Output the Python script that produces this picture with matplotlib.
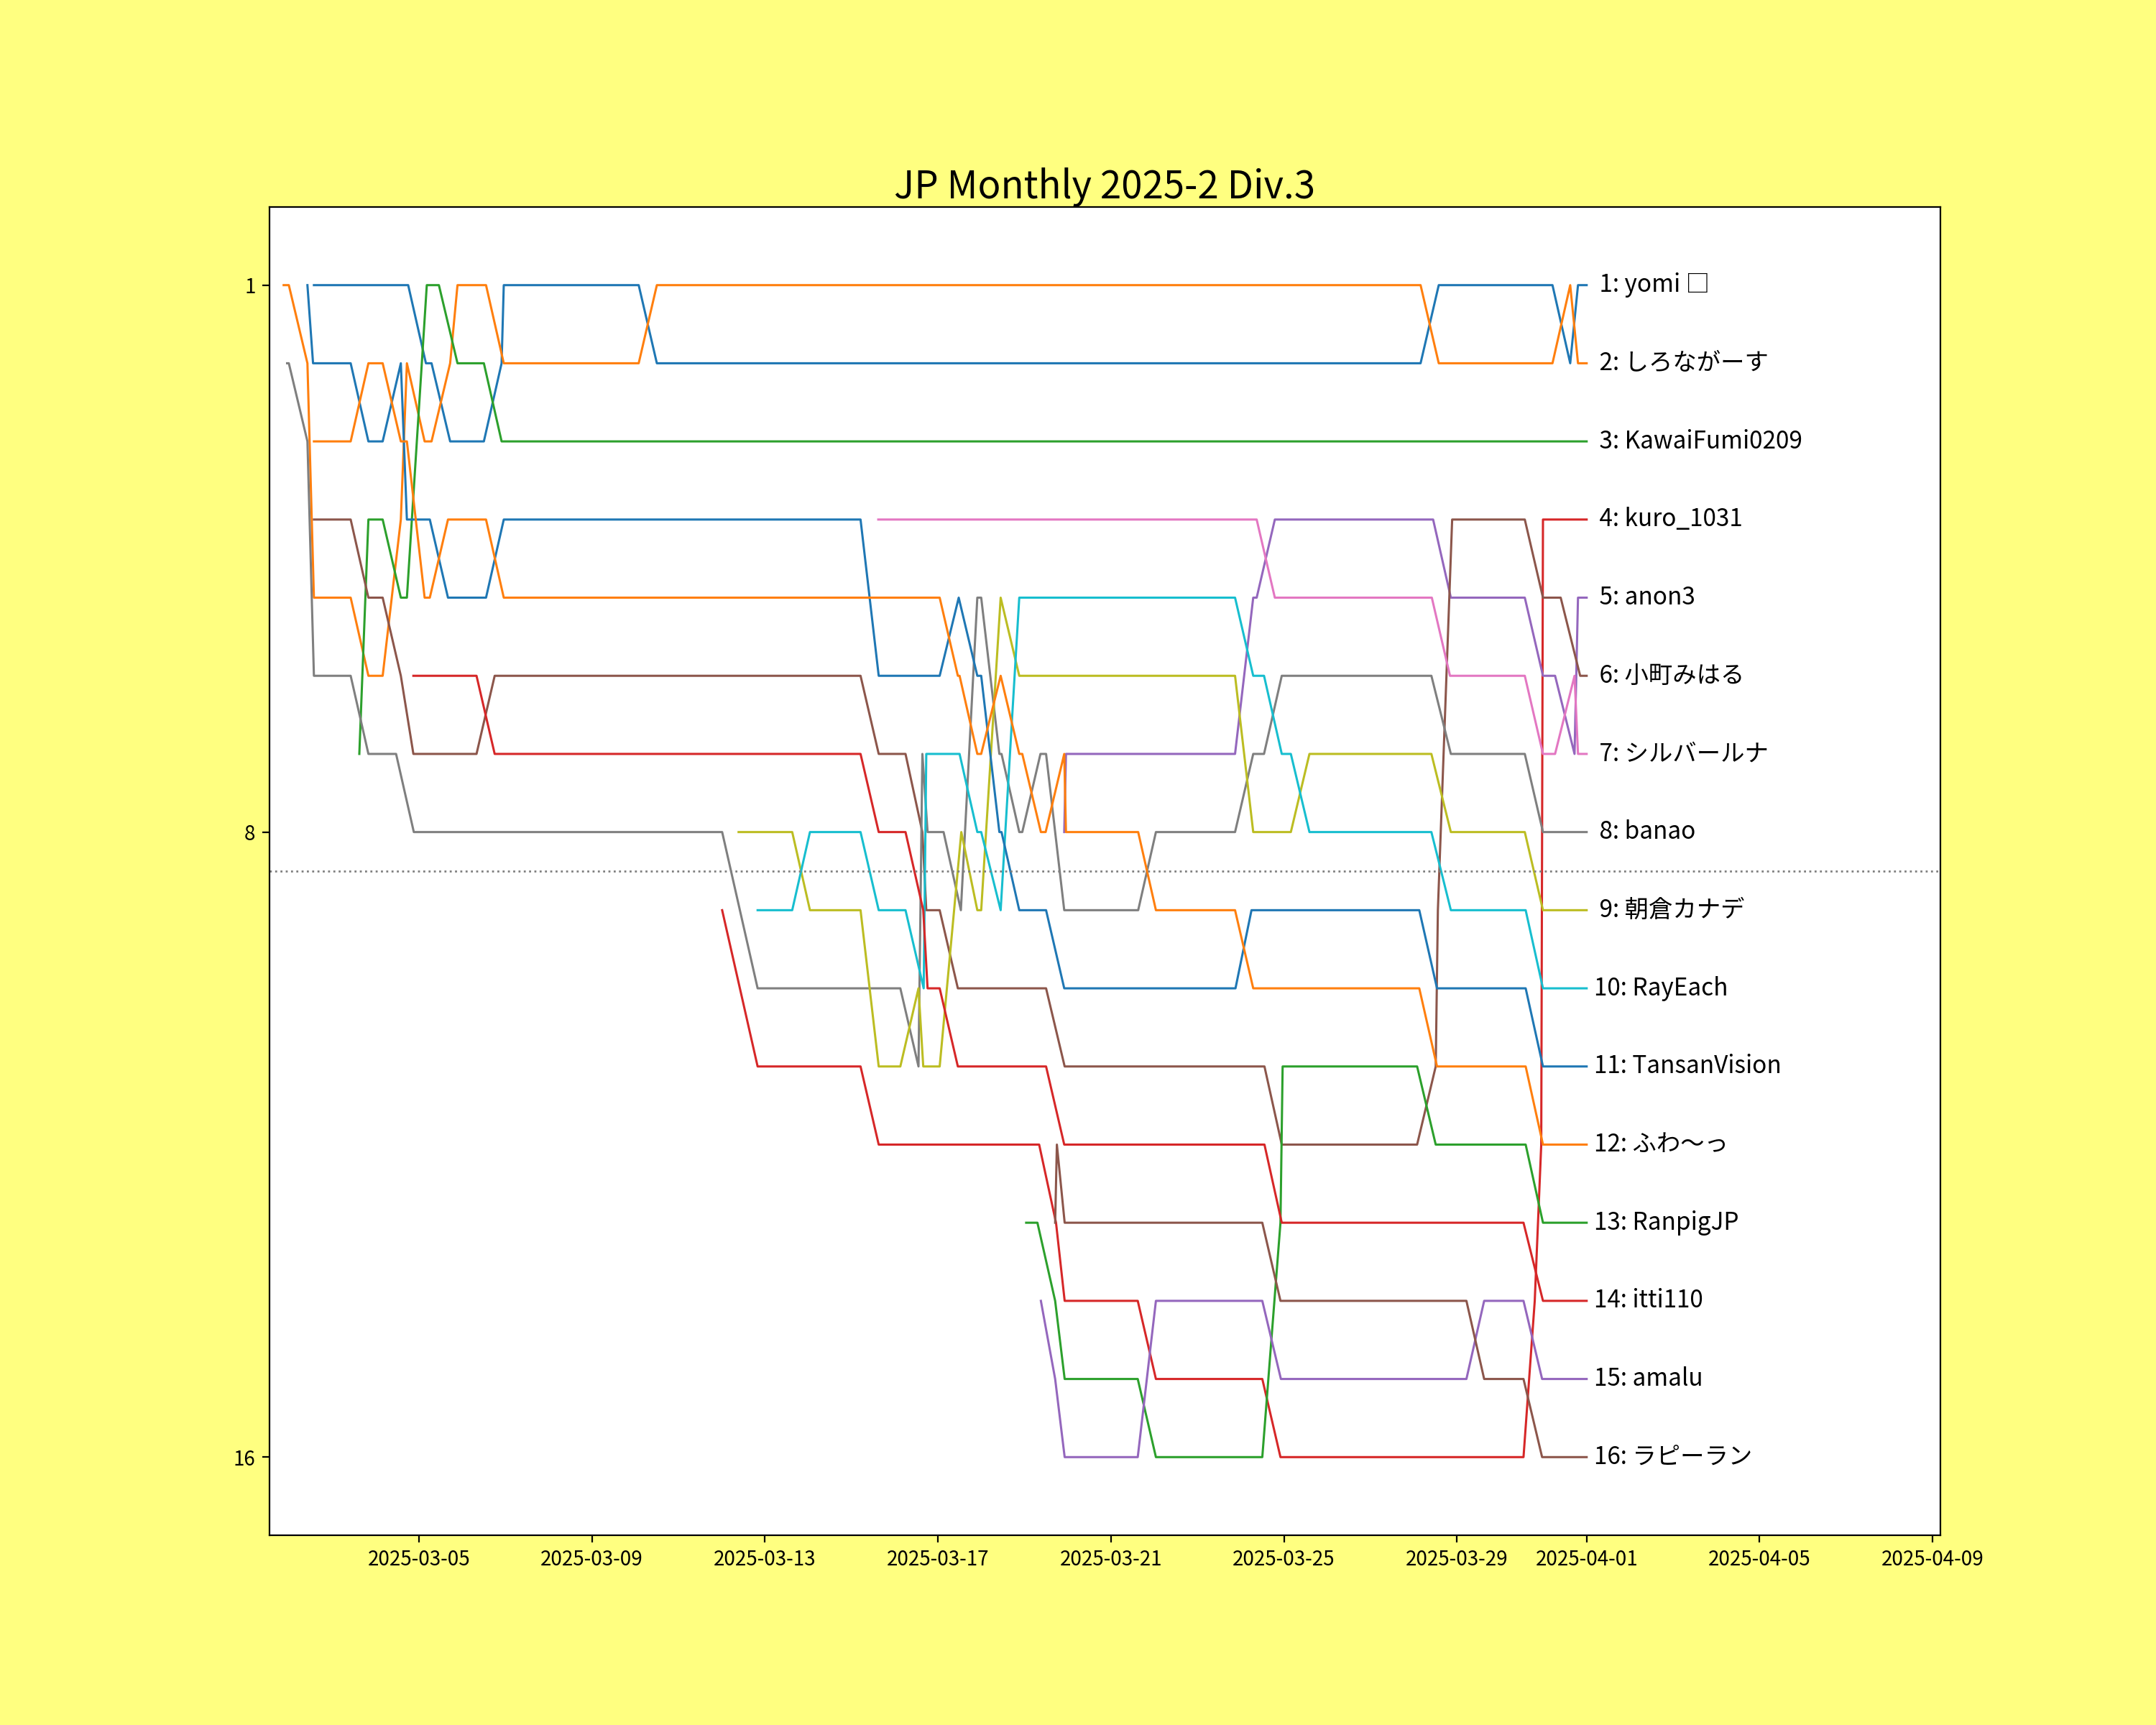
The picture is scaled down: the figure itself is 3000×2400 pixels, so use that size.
import datetime as dt
import matplotlib
matplotlib.use("Agg")
import matplotlib.pyplot as plt
import matplotlib.dates as mdates

plt.rcParams['font.family'] = ['Noto Sans CJK JP', 'DejaVu Sans']

TITLE = "JP Monthly 2025-2 Div.3"

# Times are "day of March" (fractional): 1.0 = 2025-03-01 00:00, 32.0 = 2025-04-01 00:00
names = ["yomi □", "しろながーす", "KawaiFumi0209", "kuro_1031", "anon3", "小町みはる",
         "シルバールナ", "banao", "朝倉カナデ", "RayEach", "TansanVision", "ふわ〜っ",
         "RanpigJP", "itti110", "amalu", "ラピーラン"]

yomi_t = [2.57, 4.75, 5.16, 5.29, 5.72, 6.50, 6.91, 6.96, 10.08, 10.50, 28.16, 28.58, 31.21, 31.62, 31.80, 32.00]
yomi_r = [1, 1, 2, 2, 3, 3, 2, 1, 1, 2, 2, 1, 1, 2, 1, 1]

shiro_t = [1.87, 1.99, 2.42, 2.57, 3.42, 3.83, 4.16, 4.58, 4.72, 5.13, 5.29, 5.72, 5.89, 6.55, 6.96,
           10.08, 10.50, 28.16, 28.58, 31.21, 31.62, 31.80, 32.00]
shiro_r = [1, 1, 2, 5, 5, 6, 6, 4, 2, 3, 3, 2, 1, 1, 2, 2, 1, 1, 2, 2, 1, 2, 2]

kawai_t = [3.62, 3.83, 4.16, 4.58, 4.72, 5.18, 5.46, 5.89, 6.50, 6.91, 32.00]
kawai_r = [7, 4, 4, 5, 5, 1, 1, 2, 2, 3, 3]

kuro_t = [12.01, 12.83, 15.21, 15.63, 19.34, 19.73, 19.93, 21.62, 22.04, 24.50, 24.92, 30.54,
          30.80, 30.95, 30.99, 32.00]
kuro_r = [9, 11, 11, 12, 12, 13, 14, 14, 15, 15, 16, 16, 14, 12, 4, 4]

anon3_t = [19.92, 19.96, 23.87, 24.29, 24.37, 24.79, 28.45, 28.86, 30.57, 30.99, 31.27, 31.72, 31.80, 32.00]
anon3_r = [8, 7, 7, 5, 5, 4, 4, 5, 5, 6, 6, 7, 5, 5]

komachi_t = [2.57, 3.42, 3.83, 4.16, 4.58, 4.87, 6.33, 6.75, 15.21, 15.63, 16.25, 16.64, 16.73, 17.04,
             17.46, 19.50, 19.93, 24.55, 24.95, 28.08, 28.51, 28.56, 28.89, 30.57, 30.99, 31.40, 31.85, 32.00]
komachi_r = [4, 4, 5, 5, 6, 7, 7, 6, 6, 7, 7, 8, 9, 9, 10, 10, 11, 11, 12, 12, 11, 9, 4, 4, 5, 5, 6, 6]

silver_t = [15.62, 24.37, 24.79, 28.42, 28.84, 30.57, 30.99, 31.27, 31.72, 31.80, 32.00]
silver_r = [4, 4, 5, 5, 6, 6, 7, 7, 6, 7, 7]

banao_t = [1.95, 1.99, 2.42, 2.57, 3.42, 3.83, 4.47, 4.88, 12.01, 12.83, 16.13, 16.55, 16.64, 16.76,
           17.13, 17.53, 17.91, 18.00, 18.42, 18.47, 18.88, 18.95, 19.37, 19.50, 19.92, 21.63, 22.04,
           23.87, 24.29, 24.54, 24.95, 28.41, 28.86, 30.57, 30.99, 32.00]
banao_r = [2, 2, 3, 6, 6, 7, 7, 8, 8, 10, 10, 11, 7, 8, 8, 9, 5, 5, 7, 7, 8, 8, 7, 7, 9, 9, 8,
           8, 7, 7, 6, 6, 7, 7, 8, 8]

asakura_t = [12.39, 13.63, 14.04, 15.21, 15.63, 16.13, 16.55, 16.66, 17.04, 17.54, 17.91, 18.00, 18.45,
             18.88, 23.87, 24.29, 25.16, 25.59, 28.41, 28.86, 30.57, 30.99, 32.00]
asakura_r = [8, 8, 9, 9, 11, 11, 10, 11, 11, 8, 9, 9, 5, 6, 6, 8, 8, 7, 7, 8, 8, 9, 9]

ray_t = [12.83, 13.63, 14.04, 15.21, 15.63, 16.25, 16.67, 16.73, 17.50, 17.91, 18.00, 18.45, 18.88,
         23.87, 24.29, 24.54, 24.95, 25.16, 25.59, 28.41, 28.86, 30.59, 30.99, 32.00]
ray_r = [9, 9, 8, 8, 9, 9, 10, 7, 7, 8, 8, 9, 5, 5, 6, 6, 7, 7, 8, 8, 9, 9, 10, 10]

tansan_t = [2.42, 2.55, 3.42, 3.83, 4.16, 4.58, 4.72, 5.25, 5.67, 6.55, 6.96, 15.21, 15.63, 17.04,
            17.48, 17.91, 18.00, 18.42, 18.47, 18.88, 19.50, 19.92, 23.88, 24.25, 28.13, 28.54,
            30.59, 30.99, 32.00]
tansan_r = [1, 2, 2, 3, 3, 2, 4, 4, 5, 5, 4, 4, 6, 6, 5, 6, 6, 8, 8, 9, 9, 10, 10, 9, 9, 10, 10, 11, 11]

fuwa_t = [2.57, 3.42, 3.83, 4.16, 4.58, 4.72, 5.13, 5.25, 5.67, 6.55, 6.96, 17.04, 17.46, 17.50,
          17.91, 18.00, 18.45, 18.88, 18.95, 19.38, 19.49, 19.92, 19.96, 21.63, 22.04, 23.87, 24.29,
          28.13, 28.54, 30.59, 30.99, 32.00]
fuwa_r = [3, 3, 2, 2, 3, 3, 5, 5, 4, 4, 5, 5, 6, 6, 7, 7, 6, 7, 7, 8, 8, 7, 8, 8, 9, 9, 10,
          10, 11, 11, 12, 12]

ranpig_t = [19.04, 19.30, 19.71, 19.93, 21.62, 22.04, 24.50, 24.92, 24.97, 28.08, 28.51, 30.59, 30.99, 32.00]
ranpig_r = [13, 13, 14, 15, 15, 16, 16, 13, 11, 11, 12, 12, 13, 13]

itti_t = [4.87, 6.33, 6.75, 15.21, 15.63, 16.25, 16.66, 16.76, 17.04, 17.46, 19.50, 19.92, 24.55,
          24.95, 30.54, 30.99, 32.00]
itti_r = [6, 6, 7, 7, 8, 8, 9, 10, 10, 11, 11, 12, 12, 13, 13, 14, 14]

amalu_t = [19.38, 19.71, 19.93, 21.62, 22.04, 24.50, 24.93, 29.22, 29.63, 30.54, 30.97, 32.00]
amalu_r = [14, 15, 16, 16, 14, 14, 15, 15, 14, 14, 15, 15]

rapi_t = [19.71, 19.75, 19.93, 24.50, 24.92, 29.22, 29.63, 30.54, 30.97, 32.00]
rapi_r = [13, 12, 13, 13, 14, 14, 15, 15, 16, 16]

series = [(yomi_t, yomi_r), (shiro_t, shiro_r), (kawai_t, kawai_r), (kuro_t, kuro_r),
          (anon3_t, anon3_r), (komachi_t, komachi_r), (silver_t, silver_r), (banao_t, banao_r),
          (asakura_t, asakura_r), (ray_t, ray_r), (tansan_t, tansan_r), (fuwa_t, fuwa_r),
          (ranpig_t, ranpig_r), (itti_t, itti_r), (amalu_t, amalu_r), (rapi_t, rapi_r)]

base = dt.datetime(2025, 3, 1)


def to_dt(d):
    return base + dt.timedelta(days=d - 1.0)


fig = plt.figure(figsize=(15, 12), dpi=200, facecolor='#ffff80')
ax = fig.add_subplot(111)
ax.set_facecolor('white')

colors = plt.rcParams['axes.prop_cycle'].by_key()['color']
for i, (name, (ts, rs)) in enumerate(zip(names, series)):
    xs = [to_dt(t) for t in ts]
    ax.plot(xs, rs, color=colors[i % len(colors)], linewidth=1.1)
    final_rank = rs[-1]
    ax.text(to_dt(ts[-1] + 0.17), final_rank, f"{final_rank:2d}: {name}",
            va='center', ha='left', fontsize=12)

ax.axhline(8.5, color='gray', linestyle=':', linewidth=1.0)

ax.set_ylim(17, 0)
ax.set_yticks([1, 8, 16])
ax.set_xlim(to_dt(1.543), to_dt(40.18))
ax.xaxis.set_major_locator(mdates.DayLocator(bymonthday=[1, 5, 9, 13, 17, 21, 25, 29]))
ax.xaxis.set_major_formatter(mdates.DateFormatter('%Y-%m-%d'))
ax.set_title(TITLE, fontsize=19, pad=4)

fig.savefig("out.png", dpi=200, facecolor=fig.get_facecolor())
